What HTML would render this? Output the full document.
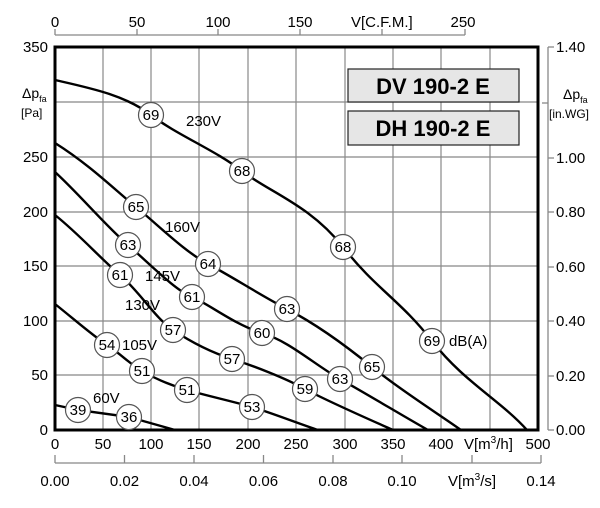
<!DOCTYPE html>
<html><head><meta charset="utf-8"><style>
body{margin:0;background:#fff}
svg{display:block;font-family:"Liberation Sans",Arial,sans-serif}
</style></head><body>
<svg width="600" height="508" viewBox="0 0 600 508">
<g stroke="#888" stroke-width="1.2">
<line x1="103" y1="47" x2="103" y2="430"/><line x1="151" y1="47" x2="151" y2="430"/>
<line x1="199" y1="47" x2="199" y2="430"/><line x1="248" y1="47" x2="248" y2="430"/>
<line x1="296" y1="47" x2="296" y2="430"/><line x1="345" y1="47" x2="345" y2="430"/>
<line x1="393" y1="47" x2="393" y2="430"/><line x1="441" y1="47" x2="441" y2="430"/>
<line x1="490" y1="47" x2="490" y2="430"/>
<line x1="55" y1="102" x2="538" y2="102"/><line x1="55" y1="157" x2="538" y2="157"/>
<line x1="55" y1="212" x2="538" y2="212"/><line x1="55" y1="266" x2="538" y2="266"/>
<line x1="55" y1="321" x2="538" y2="321"/><line x1="55" y1="375" x2="538" y2="375"/>
</g>
<rect x="55" y="47" width="483" height="383" fill="none" stroke="#000" stroke-width="3"/>
<rect x="348" y="69" width="171" height="33" fill="#e6e6e6" stroke="#222" stroke-width="1.2"/>
<rect x="348" y="111" width="171" height="34" fill="#e6e6e6" stroke="#222" stroke-width="1.2"/>
<text x="433" y="94" font-size="22" font-weight="bold" text-anchor="middle">DV 190-2 E</text>
<text x="433" y="136" font-size="22" font-weight="bold" text-anchor="middle">DH 190-2 E</text>
<g fill="none" stroke="#000" stroke-width="2.4">
<path d="M55,80 C90,88 125,95 151,115 S215,150 242,171 S310,205 343,247 S400,300 432,341 S500,400 527,430"/>
<path d="M55,143 C90,165 115,190 136,207 S185,252 208,264 S260,295 287,309 S345,345 372,367 S440,415 461,430"/>
<path d="M55,172 C80,195 105,225 128,245 S175,290 192,297 S235,325 262,333 S315,365 340,379 S410,420 428,430"/>
<path d="M55,215 C80,235 100,258 120,275 S155,318 173,330 S210,352 232,359 S285,378 305,389 S375,422 393,430"/>
<path d="M55,304 C75,320 92,335 107,345 S130,364 142,371 S170,385 187,390 S235,402 252,407 S300,424 318,430"/>
<path d="M55,405 L78,410 L129,417 L175,430"/>
</g>
<g font-size="15" text-anchor="middle">
<g fill="#fff" stroke="#555" stroke-width="1.2">
<circle cx="151" cy="115" r="12.5"/><circle cx="242" cy="171" r="12.5"/><circle cx="343" cy="247" r="12.5"/><circle cx="432" cy="341" r="12.5"/>
<circle cx="136" cy="207" r="12.5"/><circle cx="208" cy="264" r="12.5"/><circle cx="287" cy="309" r="12.5"/><circle cx="372" cy="367" r="12.5"/>
<circle cx="128" cy="245" r="12.5"/><circle cx="192" cy="297" r="12.5"/><circle cx="262" cy="333" r="12.5"/><circle cx="340" cy="379" r="12.5"/>
<circle cx="120" cy="275" r="12.5"/><circle cx="173" cy="330" r="12.5"/><circle cx="232" cy="359" r="12.5"/><circle cx="305" cy="389" r="12.5"/>
<circle cx="107" cy="345" r="12.5"/><circle cx="142" cy="371" r="12.5"/><circle cx="187" cy="390" r="12.5"/><circle cx="252" cy="407" r="12.5"/>
<circle cx="78" cy="410" r="12.5"/><circle cx="129" cy="417" r="12.5"/>
</g>
<text x="151" y="120">69</text><text x="242" y="176">68</text><text x="343" y="252">68</text><text x="432" y="346">69</text>
<text x="136" y="212">65</text><text x="208" y="269">64</text><text x="287" y="314">63</text><text x="372" y="372">65</text>
<text x="128" y="250">63</text><text x="192" y="302">61</text><text x="262" y="338">60</text><text x="340" y="384">63</text>
<text x="120" y="280">61</text><text x="173" y="335">57</text><text x="232" y="364">57</text><text x="305" y="394">59</text>
<text x="107" y="350">54</text><text x="142" y="376">51</text><text x="187" y="395">51</text><text x="252" y="412">53</text>
<text x="78" y="415">39</text><text x="129" y="422">36</text>
</g>
<g font-size="15">
<text x="186" y="126">230V</text><text x="165" y="232">160V</text><text x="145" y="281">145V</text>
<text x="125" y="310">130V</text><text x="122" y="350">105V</text><text x="93" y="403">60V</text>
<text x="449" y="346">dB(A)</text>
</g>
<g font-size="15" text-anchor="end">
<text x="48" y="52">350</text><text x="48" y="162">250</text><text x="48" y="217">200</text>
<text x="48" y="271">150</text><text x="48" y="326">100</text><text x="48" y="380">50</text><text x="48" y="435">0</text>
</g>
<text x="22" y="98" font-size="14">Δp<tspan font-size="9" dy="4">fa</tspan></text>
<text x="21" y="117" font-size="12">[Pa]</text>
<g font-size="15" text-anchor="middle">
<text x="55" y="449">0</text><text x="103" y="449">50</text><text x="151" y="449">100</text><text x="199" y="449">150</text>
<text x="248" y="449">200</text><text x="296" y="449">250</text><text x="345" y="449">300</text><text x="393" y="449">350</text>
<text x="441" y="449">400</text><text x="538" y="449">500</text>
</g>
<text x="464" y="449" font-size="15">V[m<tspan font-size="10" dy="-6">3</tspan><tspan dy="6">/h]</tspan></text>
<g stroke="#888" stroke-width="1.3">
<line x1="55" y1="463" x2="541" y2="463"/>
<line x1="55" y1="455" x2="55" y2="463"/><line x1="124.5" y1="455" x2="124.5" y2="463"/><line x1="194" y1="455" x2="194" y2="463"/>
<line x1="263.5" y1="455" x2="263.5" y2="463"/><line x1="333" y1="455" x2="333" y2="463"/><line x1="402" y1="455" x2="402" y2="463"/>
<line x1="472" y1="455" x2="472" y2="463"/><line x1="541" y1="455" x2="541" y2="463"/>
</g>
<g font-size="15" text-anchor="middle">
<text x="55" y="486">0.00</text><text x="124.5" y="486">0.02</text><text x="194" y="486">0.04</text><text x="263.5" y="486">0.06</text>
<text x="333" y="486">0.08</text><text x="402" y="486">0.10</text><text x="541" y="486">0.14</text>
</g>
<text x="448" y="486" font-size="15">V[m<tspan font-size="10" dy="-6">3</tspan><tspan dy="6">/s]</tspan></text>
<g stroke="#888" stroke-width="1.3">
<line x1="55" y1="35" x2="465" y2="35"/>
<line x1="55" y1="29" x2="55" y2="35"/><line x1="137" y1="29" x2="137" y2="35"/><line x1="218" y1="29" x2="218" y2="35"/>
<line x1="300" y1="29" x2="300" y2="35"/><line x1="382" y1="29" x2="382" y2="35"/><line x1="465" y1="29" x2="465" y2="35"/>
</g>
<g font-size="15" text-anchor="middle">
<text x="55" y="27">0</text><text x="137" y="27">50</text><text x="218" y="27">100</text><text x="300" y="27">150</text><text x="463" y="27">250</text>
</g>
<text x="351" y="27" font-size="15">V[C.F.M.]</text>
<g stroke="#888" stroke-width="1.3">
<line x1="548" y1="47" x2="548" y2="430"/>
<line x1="548" y1="47" x2="554" y2="47"/><line x1="548" y1="158" x2="554" y2="158"/><line x1="548" y1="212" x2="554" y2="212"/>
<line x1="548" y1="267" x2="554" y2="267"/><line x1="548" y1="321" x2="554" y2="321"/><line x1="548" y1="376" x2="554" y2="376"/>
<line x1="548" y1="430" x2="554" y2="430"/><line x1="542" y1="103" x2="548" y2="103"/>
</g>
<g font-size="15">
<text x="556" y="52">1.40</text><text x="556" y="163">1.00</text><text x="556" y="217">0.80</text>
<text x="556" y="272">0.60</text><text x="556" y="326">0.40</text><text x="556" y="381">0.20</text><text x="556" y="435">0.00</text>
</g>
<text x="563" y="99" font-size="14">Δp<tspan font-size="9" dy="4">fa</tspan></text>
<text x="549" y="118" font-size="12">[in.WG]</text>
</svg>
</body></html>
